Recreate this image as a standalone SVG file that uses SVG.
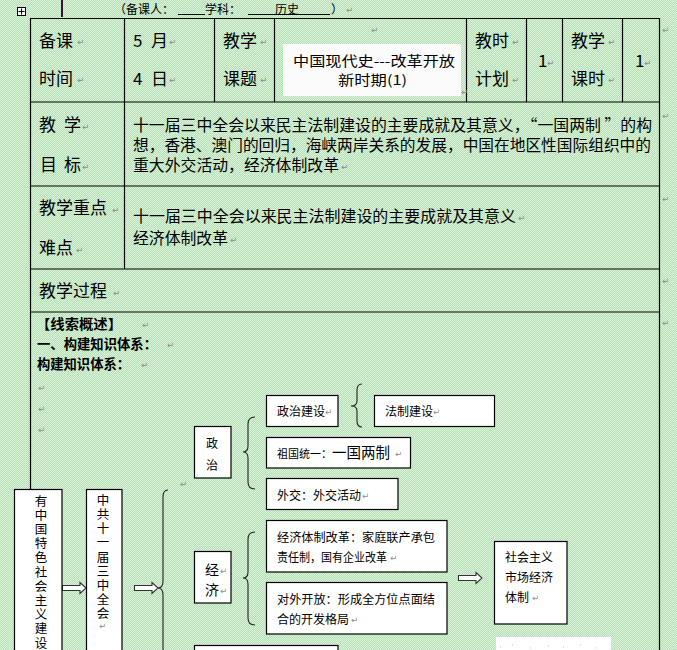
<svg xmlns="http://www.w3.org/2000/svg" width="677" height="650" viewBox="0 0 677 650">
<defs>
<pattern id="bg" width="2" height="2" patternUnits="userSpaceOnUse">
<rect width="2" height="2" fill="#afe4af"/>
<rect width="1" height="1" fill="#e2eee2"/>
<rect x="1" y="1" width="1" height="1" fill="#e2eee2"/>
</pattern>
<style>
.t{font-family:"Noto Sans CJK SC","Noto Sans",sans-serif;fill:#000}
.h{font-size:17px}
.b{font-size:15.5px}
.s{font-size:12px}
.v{font-size:12.5px;text-anchor:middle}
.bd{font-size:13.5px;font-weight:bold}
.p{font-family:"DejaVu Sans",sans-serif;font-size:8.5px;fill:#8a8a8a}
.ln{stroke:#000;stroke-width:1.2;fill:none}
.box{fill:#fff;stroke:#000;stroke-width:1.2}
.br{fill:none;stroke:#222;stroke-width:1.1}
.ar{fill:#fff;stroke:#333;stroke-width:1.1}
</style>
</defs>
<rect width="677" height="650" fill="url(#bg)"/>

<!-- header -->
<g id="header">
<rect x="17.5" y="7.5" width="8" height="8" fill="#fff" stroke="#000" stroke-width="1"/>
<path d="M21.5,8.5V14.5M18.5,11.5H24.5" stroke="#000" stroke-width="1"/>
<rect x="61" y="0" width="2" height="17" fill="#3a1030"/>
<text class="t" x="114" y="14" font-size="12">（备课人：</text>
<line x1="178" y1="14.5" x2="205" y2="14.5" stroke="#000" stroke-width="1"/>
<text class="t" x="205" y="14" font-size="12">学科：</text>
<line x1="248" y1="14.5" x2="330" y2="14.5" stroke="#000" stroke-width="1"/>
<text class="t" x="275" y="14" font-size="12">历史</text>
<text class="t" x="331" y="14" font-size="12">）</text>
<text class="p" x="346" y="13">↵</text>
</g>

<!-- table grid -->
<g id="table">
<line class="ln" x1="30.5" y1="18.5" x2="659.5" y2="18.5"/>
<line class="ln" x1="30.5" y1="102" x2="659.5" y2="102"/>
<line class="ln" x1="30.5" y1="186" x2="659.5" y2="186"/>
<line class="ln" x1="30.5" y1="269" x2="659.5" y2="269"/>
<line class="ln" x1="30.5" y1="312" x2="659.5" y2="312"/>
<line class="ln" x1="30.5" y1="18" x2="30.5" y2="490"/>
<line class="ln" x1="659.5" y1="18" x2="659.5" y2="650"/>
<line class="ln" x1="124.5" y1="18" x2="124.5" y2="269"/>
<line class="ln" x1="214.5" y1="18" x2="214.5" y2="102"/>
<line class="ln" x1="274.5" y1="18" x2="274.5" y2="102"/>
<line class="ln" x1="466.5" y1="18" x2="466.5" y2="102"/>
<line class="ln" x1="526.5" y1="18" x2="526.5" y2="102"/>
<line class="ln" x1="562.5" y1="18" x2="562.5" y2="102"/>
<line class="ln" x1="622.5" y1="18" x2="622.5" y2="102"/>
</g>

<!-- row 1 -->
<g id="row1">
<text class="t h" x="39" y="47">备课</text><text class="p" x="77" y="45">↵</text>
<text class="t h" x="39" y="85">时间</text><text class="p" x="77" y="83">↵</text>
<text class="t h" x="133" y="47">5</text><text class="t h" x="151" y="47">月</text><text class="p" x="169" y="45">↵</text>
<text class="t h" x="133" y="85">4</text><text class="t h" x="151" y="85">日</text><text class="p" x="169" y="83">↵</text>
<text class="t h" x="223" y="47">教学</text><text class="p" x="260" y="45">↵</text>
<text class="t h" x="223" y="85">课题</text><text class="p" x="260" y="83">↵</text>
<text class="p" x="371" y="33">↵</text>
<rect x="283" y="44" width="178" height="52" fill="#fbfbfb"/>
<text class="t" x="293" y="66" font-size="13.5" fill="#222" textLength="162" lengthAdjust="spacingAndGlyphs">中国现代史---改革开放</text>
<text class="t" x="338" y="85" font-size="13.5" fill="#222" textLength="69" lengthAdjust="spacingAndGlyphs">新时期(1)</text>
<text class="p" x="461" y="95">↵</text>
<text class="t h" x="475" y="47">教时</text><text class="p" x="512" y="45">↵</text>
<text class="t h" x="475" y="85">计划</text><text class="p" x="512" y="83">↵</text>
<text class="t h" x="538" y="67">1</text><text class="p" x="547" y="66">↵</text>
<text class="t h" x="571" y="47">教学</text><text class="p" x="608" y="45">↵</text>
<text class="t h" x="571" y="85">课时</text><text class="p" x="608" y="83">↵</text>
<text class="t h" x="635" y="67">1</text><text class="p" x="644" y="66">↵</text>
<text class="p" x="662" y="33">↵</text>
</g>

<!-- row 2 -->
<g id="row2">
<text class="t h" x="39" y="131">教</text><text class="t h" x="64" y="131">学</text><text class="p" x="82" y="130">↵</text>
<text class="t h" x="40" y="171">目</text><text class="t h" x="64" y="171">标</text><text class="p" x="82" y="170">↵</text>
<text class="t b" x="133" y="131" textLength="519" lengthAdjust="spacingAndGlyphs">十一届三中全会以来民主法制建设的主要成就及其意义，“一国两制 ”的构</text>
<text class="t b" x="133" y="151" textLength="518" lengthAdjust="spacingAndGlyphs">想，香港、澳门的回归，海峡两岸关系的发展，中国在地区性国际组织中的</text>
<text class="t b" x="133" y="171" textLength="206" lengthAdjust="spacingAndGlyphs">重大外交活动，经济体制改革</text><text class="p" x="341" y="170">↵</text>
<text class="p" x="662" y="119">↵</text>
</g>

<!-- row 3 -->
<g id="row3">
<text class="t h" x="39" y="214">教学重点</text><text class="p" x="112" y="213">↵</text>
<text class="t h" x="39" y="254">难点</text><text class="p" x="76" y="253">↵</text>
<text class="t b" x="133" y="222" textLength="383" lengthAdjust="spacingAndGlyphs">十一届三中全会以来民主法制建设的主要成就及其意义</text><text class="p" x="518" y="221">↵</text>
<text class="t b" x="133" y="244" textLength="95" lengthAdjust="spacingAndGlyphs">经济体制改革</text><text class="p" x="230" y="243">↵</text>
<text class="p" x="662" y="202">↵</text>
</g>

<!-- row 4 -->
<g id="row4">
<text class="t h" x="39" y="297">教学过程</text><text class="p" x="113" y="296">↵</text>
<text class="p" x="662" y="284">↵</text>
</g>

<!-- row 5 body -->
<g id="body">
<text class="t bd" x="36" y="329" font-size="14" textLength="86" lengthAdjust="spacingAndGlyphs">【线索概述】</text><text class="p" x="142" y="328">↵</text>
<text class="t bd" x="37" y="349" textLength="120" lengthAdjust="spacingAndGlyphs">一、构建知识体系：</text><text class="p" x="167" y="348">↵</text>
<text class="t bd" x="37" y="369" textLength="93" lengthAdjust="spacingAndGlyphs">构建知识体系：</text><text class="p" x="141" y="368">↵</text>
<text class="p" x="38" y="391">↵</text>
<text class="p" x="38" y="412">↵</text>
<text class="p" x="38" y="433">↵</text>
<text class="p" x="662" y="326">↵</text>
</g>

<!-- connectors -->
<g id="connectors">
<path class="br" d="M168,490 Q163,490 163,497 L163,581 Q163,588 158,588 Q163,588 163,595 L163,660"/>
<path class="br" d="M255,417 Q248,417 248,424 L248,446 Q248,452 243,452 Q248,452 248,458 L248,482 Q248,489 255,489"/>
<path class="br" d="M255,532 Q248,532 248,539 L248,572 Q248,578 243,578 Q248,578 248,584 L248,618 Q248,625 255,625"/>
<path class="br" d="M362,384 Q357,384 357,390 L357,401 Q357,406 351,406 Q357,406 357,411 L357,421 Q357,427 362,427"/>
<path class="ar" d="M62.5,585.5 H80 V582.5 L86,588 L80,593.5 V590.5 H62.5 Z"/>
<path class="ar" d="M134.5,585.5 H152 V582.5 L158,588 L152,593.5 V590.5 H134.5 Z"/>
<path class="ar" d="M458.5,575.5 H476 V572.5 L482,578 L476,583.5 V580.5 H458.5 Z"/>
</g>

<!-- nodes -->
<g id="n-socialism">
<rect class="box" x="14.5" y="489.5" width="47.5" height="180"/>
<text class="t v" x="41">
<tspan x="41" y="506">有</tspan><tspan x="41" y="520">中</tspan><tspan x="41" y="534">国</tspan><tspan x="41" y="548">特</tspan><tspan x="41" y="562">色</tspan><tspan x="41" y="577">社</tspan><tspan x="41" y="591">会</tspan><tspan x="41" y="605">主</tspan><tspan x="41" y="619">义</tspan><tspan x="41" y="633">建</tspan><tspan x="41" y="648">设</tspan>
</text>
</g>
<g id="n-plenum">
<rect class="box" x="86.5" y="489.5" width="35.5" height="180"/>
<text class="t v" x="103">
<tspan x="103" y="505">中</tspan><tspan x="103" y="519">共</tspan><tspan x="103" y="533">十</tspan><tspan x="103" y="547">一</tspan><tspan x="103" y="562">届</tspan><tspan x="103" y="576">三</tspan><tspan x="103" y="590">中</tspan><tspan x="103" y="604">全</tspan><tspan x="103" y="618">会</tspan>
</text>
<text class="p" x="99" y="629">↵</text>
</g>
<text class="p" x="180" y="487">↵</text>
<g id="n-politics">
<rect class="box" x="194.5" y="426.5" width="36.5" height="51.5"/>
<text class="t s" x="206" y="448">政</text>
<text class="t s" x="206" y="470">治</text>
</g>
<g id="n-polbuild">
<rect class="box" x="266.5" y="395.5" width="71.5" height="31"/>
<text class="t s" x="277" y="416" font-size="11.5">政治建设</text><text class="p" x="325" y="415">↵</text>
</g>
<g id="n-law">
<rect class="box" x="374.5" y="395.5" width="120" height="31"/>
<text class="t s" x="385" y="416" font-size="11.5">法制建设</text><text class="p" x="433" y="415">↵</text>
</g>
<g id="n-unify">
<rect class="box" x="266.5" y="437.5" width="144" height="30.5"/>
<text class="t s" x="277" y="458"><tspan font-size="11">祖国统一：</tspan><tspan font-size="14.5">一国两制</tspan></text><text class="p" x="395" y="457">↵</text>
</g>
<g id="n-diplo">
<rect class="box" x="266.5" y="478.5" width="131.5" height="31"/>
<text class="t s" x="277" y="500">外交：外交活动</text><text class="p" x="362" y="499">↵</text>
</g>
<g id="n-economy">
<rect class="box" x="194.5" y="551.5" width="36.5" height="51.5"/>
<text class="t" x="205" y="575" font-size="14">经</text><text class="p" x="220" y="574">↵</text>
<text class="t" x="205" y="595" font-size="14">济</text><text class="p" x="220" y="594">↵</text>
</g>
<g id="n-reform">
<rect class="box" x="266.5" y="520.5" width="180.5" height="51.5"/>
<text class="t s" x="277" y="542" textLength="158" lengthAdjust="spacingAndGlyphs">经济体制改革：家庭联产承包</text>
<text class="t s" x="277" y="562" textLength="110" lengthAdjust="spacingAndGlyphs">责任制，国有企业改革</text><text class="p" x="390" y="561">↵</text>
</g>
<g id="n-open">
<rect class="box" x="266.5" y="582.5" width="180.5" height="51.5"/>
<text class="t s" x="277" y="604" textLength="158" lengthAdjust="spacingAndGlyphs">对外开放：形成全方位点面结</text>
<text class="t s" x="277" y="624" textLength="72" lengthAdjust="spacingAndGlyphs">合的开发格局</text><text class="p" x="351" y="623">↵</text>
</g>
<g id="n-market">
<rect class="box" x="494.5" y="541.5" width="72.5" height="82.5"/>
<text class="t s" x="505" y="562" font-size="12.5">社会主义</text>
<text class="t s" x="505" y="582" font-size="12.5">市场经济</text>
<text class="t s" x="505" y="602" font-size="12.5">体制</text><text class="p" x="532" y="601">↵</text>
</g>
<g id="n-bottom">
<rect class="box" x="194.5" y="645.5" width="143.5" height="20"/>
</g>
<g id="n-pic">
<rect x="496" y="637" width="115" height="14" fill="#fff"/>
<path d="M500,647h1M512,645h1M530,648h1M548,646h1M563,647h1M580,645h1M596,648h1" stroke="#f2c4d4" stroke-width="1.5"/>
</g>
</svg>
